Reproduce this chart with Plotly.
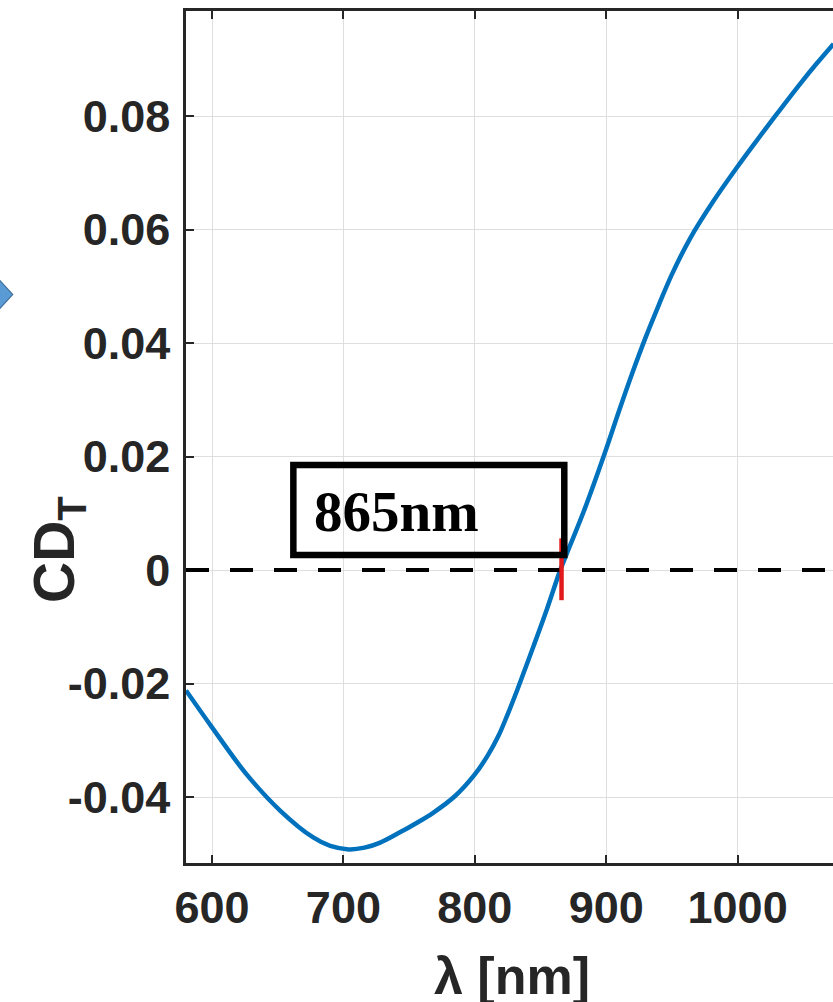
import plotly.graph_objects as go

# Data
wavelength_nm = [580.2, 600, 626, 652, 677, 690, 704, 716, 728, 743, 756, 768, 785, 800,
                 810, 818, 825, 832, 845, 855, 865, 870, 884, 898, 910, 920, 930, 940,
                 950, 964, 981, 1000, 1014, 1028, 1047, 1060, 1073]
cd_t = [-0.0212, -0.0277, -0.0359, -0.0424, -0.0471, -0.0486, -0.0492, -0.0489, -0.0480,
        -0.0462, -0.0445, -0.0428, -0.0398, -0.0360,
        -0.0326, -0.0292, -0.0254, -0.0213, -0.0132, -0.0068, 0.0, 0.0029, 0.0110, 0.0200,
        0.0282, 0.0348, 0.0410, 0.0467, 0.0521, 0.0585, 0.0648, 0.0711, 0.0755, 0.0798,
        0.0855, 0.0892, 0.0927]

x_ticks = [600, 700, 800, 900, 1000]
y_ticks = [-0.04, -0.02, 0, 0.02, 0.04, 0.06, 0.08]
y_tick_labels = ["-0.04", "-0.02", "0", "0.02", "0.04", "0.06", "0.08"]

crossing_nm = 866
crossing_label = "865nm"

x_range = [580.2, 1072.6]
y_range = [-0.0516, 0.0985]

W, H = 833, 1002
ML, MR, MT, MB = 186, 0, 11, 139

AX_COLOR = "#262626"
tick_font = dict(family="Liberation Sans, Arial, sans-serif", size=45, color=AX_COLOR, weight="bold")

fig = go.Figure()
fig.add_trace(go.Scatter(
    x=wavelength_nm, y=cd_t, mode="lines",
    line=dict(color="#0072BD", width=4.5, shape="spline", smoothing=1.0),
    showlegend=False, hoverinfo="skip"))

shapes = []
# dashed zero line
shapes.append(dict(type="line", xref="paper", yref="y", x0=0, x1=1, y0=0, y1=0,
                   line=dict(color="black", width=4, dash="23px,21px"), layer="above"))
# red marker at crossing
shapes.append(dict(type="line", xref="x", yref="y", x0=crossing_nm, x1=crossing_nm,
                   y0=-0.0053, y1=0.0056, line=dict(color="#e31a1c", width=4.5), layer="above"))
# label box
shapes.append(dict(type="rect", xref="x", yref="y", x0=661.9, x1=868.1, y0=0.00265, y1=0.0185,
                   line=dict(color="black", width=6.5), fillcolor="rgba(0,0,0,0)", layer="above"))

# blue arrow fragment at left edge (decoration, in paper coords)
pw = W - ML - MR
ph = H - MT - MB
def px(xp):
    return (xp - ML) / pw
def py(yp):
    return (H - MB - yp) / ph
shapes.append(dict(type="path", xref="paper", yref="paper",
                   path=f"M {px(-6)},{py(274)} L {px(12.7)},{py(294.5)} L {px(-6)},{py(315)} Z",
                   fillcolor="#5b9bd5", line=dict(color="#41719c", width=1.2), layer="above"))

annotations = [
    dict(x=740.4, y=0.0104, xref="x", yref="y", text=crossing_label, showarrow=False,
         font=dict(family="Liberation Serif, Times New Roman, serif", size=57, color="black", weight="bold"),
         xanchor="center", yanchor="middle"),
    dict(x=px(58), y=py(550), xref="paper", yref="paper", text="CD<sub>T</sub>", showarrow=False,
         textangle=-90, xanchor="center", yanchor="middle",
         font=dict(family="Liberation Sans, Arial, sans-serif", size=57, color=AX_COLOR, weight="bold")),
    dict(x=px(512), y=py(976), xref="paper", yref="paper", text="λ [nm]", showarrow=False,
         xanchor="center", yanchor="middle",
         font=dict(family="Liberation Sans, Arial, sans-serif", size=52, color=AX_COLOR, weight="bold")),
]

fig.update_layout(
    width=W, height=H,
    margin=dict(l=ML, r=MR, t=MT, b=MB, pad=0),
    paper_bgcolor="white", plot_bgcolor="white",
    shapes=shapes, annotations=annotations,
    xaxis=dict(range=x_range, tickvals=x_ticks, ticks="inside", ticklen=8, tickwidth=2,
               tickcolor=AX_COLOR, showline=True, linecolor=AX_COLOR, linewidth=2.5,
               mirror="ticks", showgrid=True, gridcolor="#dedede", gridwidth=1.2,
               zeroline=False, tickfont=tick_font, ticklabelstandoff=3),
    yaxis=dict(range=y_range, tickvals=y_ticks, ticktext=y_tick_labels, ticks="inside",
               ticklen=8, tickwidth=2, tickcolor=AX_COLOR, showline=True, linecolor=AX_COLOR,
               linewidth=2.5, mirror=False, showgrid=True, gridcolor="#dedede", gridwidth=1.2,
               zeroline=False, tickfont=tick_font, ticklabelstandoff=4),
)

fig.write_html("out.html")
